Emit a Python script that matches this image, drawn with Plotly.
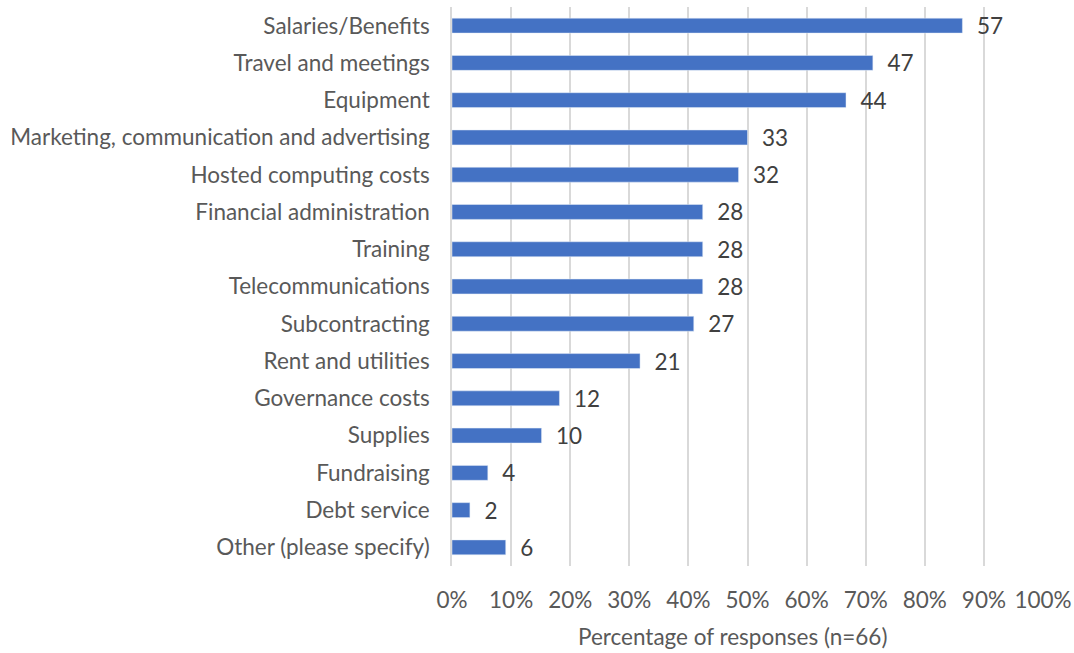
import plotly.graph_objects as go

categories = ["Salaries/Benefits", "Travel and meetings", "Equipment",
              "Marketing, communication and advertising", "Hosted computing costs",
              "Financial administration", "Training", "Telecommunications",
              "Subcontracting", "Rent and utilities", "Governance costs",
              "Supplies", "Fundraising", "Debt service", "Other (please specify)"]
counts = [57, 47, 44, 33, 32, 28, 28, 28, 27, 21, 12, 10, 4, 2, 6]
n_responses = 66
tick_vals = [0, 0.1, 0.2, 0.3, 0.4, 0.5, 0.6, 0.7, 0.8, 0.9, 1.0]
tick_text = ["0%", "10%", "20%", "30%", "40%", "50%", "60%", "70%", "80%", "90%", "100%"]
x_title = "Percentage of responses (n=66)"

shares = [c / n_responses for c in counts]

font_family = "Lato, Open Sans, sans-serif"
fs = 22.5

fig = go.Figure(go.Bar(
    y=categories, x=shares, orientation="h",
    marker=dict(color="#4472C4"),
    text=["\u00a0\u00a0" + str(c) for c in counts], textposition="outside",
    textfont=dict(size=fs, color="#404040", family=font_family),
    constraintext="none",
    cliponaxis=False,
    hoverinfo="skip",
))

fig.update_layout(
    width=1074, height=653,
    margin=dict(l=452, r=31, t=7, b=87),
    plot_bgcolor="white", paper_bgcolor="white",
    bargap=0.6,
    showlegend=False,
    font=dict(family=font_family, size=fs, color="#595959"),
    annotations=[dict(text=x_title, xref="paper", yref="paper", x=0.5, y=0,
                      xanchor="center", yanchor="middle", xshift=-15, yshift=-70,
                      showarrow=False, font=dict(size=fs, color="#595959"))],
)
fig.update_xaxes(range=[0, 1.0], tickvals=tick_vals, ticktext=tick_text,
                 showgrid=True, gridcolor="#d9d9d9", gridwidth=1.5,
                 zeroline=False, showline=False, automargin=False,
                 tickfont=dict(size=fs, color="#595959"),
                 ticks="", ticklabelstandoff=18)
fig.update_yaxes(autorange="reversed", categoryorder="array", categoryarray=categories,
                 tickfont=dict(size=fs, color="#595959"), ticks="", automargin=False,
                 showline=True, linecolor="#d9d9d9", linewidth=1.5,
                 ticklabelstandoff=16)

fig.write_html("out.html", config={"displayModeBar": False},
               post_script="document.body.style.margin='0';document.body.style.overflow='hidden';")
